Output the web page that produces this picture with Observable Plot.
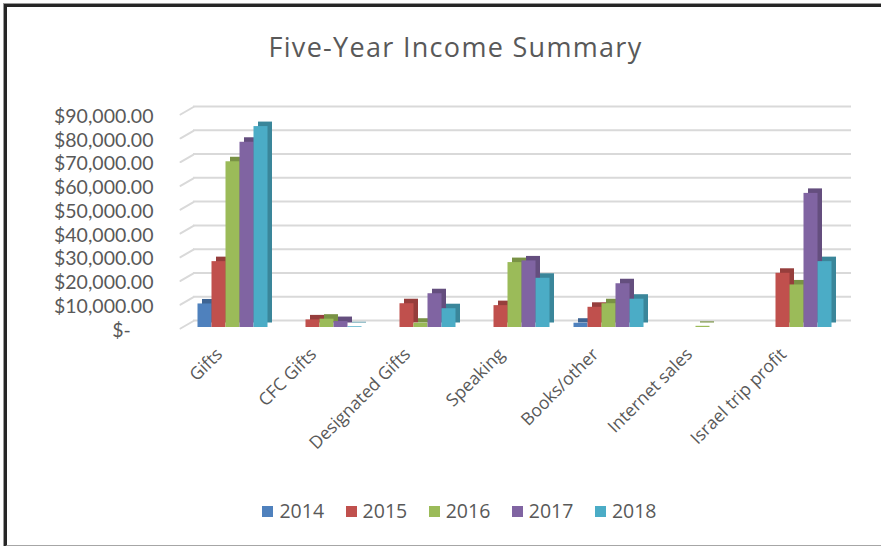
<!DOCTYPE html>
<html>
<head>
<meta charset="utf-8">
<script src="https://cdn.jsdelivr.net/npm/d3@7"></script>
<script src="https://cdn.jsdelivr.net/npm/@observablehq/plot@0.6"></script>
<style>
  html, body { margin: 0; padding: 0; background: #fff; }
  body { width: 881px; height: 546px; position: relative; overflow: hidden; font-family: "Open Sans", sans-serif; }
  #frame { position: absolute; left: 4px; top: 4px; width: 880px; height: 538px;
           border-left: 3px solid #262626; border-top: 3px solid #262626; border-bottom: 2px solid #a6a6a6;
           box-shadow: -1px -1px 0 #9a9a9a; }
  #title { position: absolute; left: 15px; width: 881px; top: 33px; text-align: center;
           font-size: 27px; line-height: 27px; letter-spacing: 1.3px; color: #595959; }
  #chart { position: absolute; left: 0; top: 0; }
  #legend { position: absolute; left: 0; width: 881px; top: 499px; display: flex; justify-content: center;
            gap: 21.5px; font-size: 19.5px; line-height: 24px; color: #595959; padding-left: 38px; box-sizing: border-box; }
  #legend .item { display: flex; align-items: center; gap: 6px; }
  #legend .sw { width: 11px; height: 11px; display: inline-block; }
</style>
</head>
<body>
<div id="frame"></div>
<div id="title">Five-Year Income Summary</div>
<div id="chart"></div>
<div id="legend"></div>
<script>
const categories = ["Gifts", "CFC Gifts", "Designated Gifts", "Speaking", "Books/other", "Internet sales", "Israel trip profit"];
const years = ["2014", "2015", "2016", "2017", "2018"];
const v2014 = [9900, 0, 0, 0, 1800, 0, 0];
const v2015 = [27700, 3200, 10000, 9200, 8500, 0, 22800];
const v2016 = [69700, 3500, 1800, 27300, 10000, 500, 17900];
const v2017 = [77900, 2500, 14200, 28000, 18400, 0, 56400];
const v2018 = [84500, 300, 7900, 20700, 11900, 0, 27700];
const yTicks = [0, 10000, 20000, 30000, 40000, 50000, 60000, 70000, 80000, 90000];
const colors = ["#4F81BD", "#C0504D", "#9BBB59", "#8064A2", "#4BACC6"];

const series = [v2014, v2015, v2016, v2017, v2018];
const data = years.flatMap((yr, i) =>
  categories.map((c, j) => ({category: c, year: yr, value: series[i][j]}))
).filter(d => d.value > 0);

const dark = colors.map(c => d3.color(c).darker(0.7).formatHex());
const fmt = v => v === 0 ? "$-\u2007\u2007" : "$" + d3.format(",.2f")(v);

const diagShape = {draw(context, l) { context.moveTo(0, 0); context.lineTo(0, -l); }};

const chart = Plot.plot({
  width: 881,
  height: 480,
  marginLeft: 184.5,
  marginRight: 38.5,
  marginTop: 113,
  marginBottom: 153,
  style: {fontFamily: "Open Sans, sans-serif", fontSize: "17.5px", color: "#595959", background: "transparent", overflow: "visible"},
  fx: {domain: categories, padding: 0, label: null},
  x: {domain: years, paddingInner: 0, paddingOuter: 0.81, axis: null},
  y: {domain: [0, 90000], label: null},
  color: {domain: years, range: colors},
  marks: [
    Plot.gridY(yTicks, {dx: 8, dy: -7, stroke: "#d9d9d9", strokeOpacity: 1, strokeWidth: 2}),
    Plot.vector(yTicks, {fx: () => categories[0], y: d => d, frameAnchor: "left", dx: -5, dy: 1, rotate: 60, length: 15, anchor: "start", shape: diagShape, stroke: "#d9d9d9", strokeWidth: 2}),
    Plot.barY(data, {fx: "category", x: "year", y: "value", dx: 4.5, dy: -4.5, fill: d => dark[years.indexOf(d.year)]}),
    Plot.barY(data, {fx: "category", x: "year", y: "value", fill: "year"}),
    Plot.axisY(yTicks, {tickSize: 0, tickPadding: 32, tickFormat: fmt, dy: 3, fill: "#595959", fontSize: 19.5, fontFamily: "Lato, sans-serif"}),
    Plot.axisFx({anchor: "bottom", tickSize: 0, tickRotate: -45, tickPadding: 24, dx: -13, fill: "#595959", fontSize: 17.5})
  ]
});
document.getElementById("chart").appendChild(chart);

const legend = document.getElementById("legend");
years.forEach((yr, i) => {
  const item = document.createElement("div");
  item.className = "item";
  item.innerHTML = `<span class="sw" style="background:${colors[i]}"></span><span>${yr}</span>`;
  legend.appendChild(item);
});
</script>
</body>
</html>
